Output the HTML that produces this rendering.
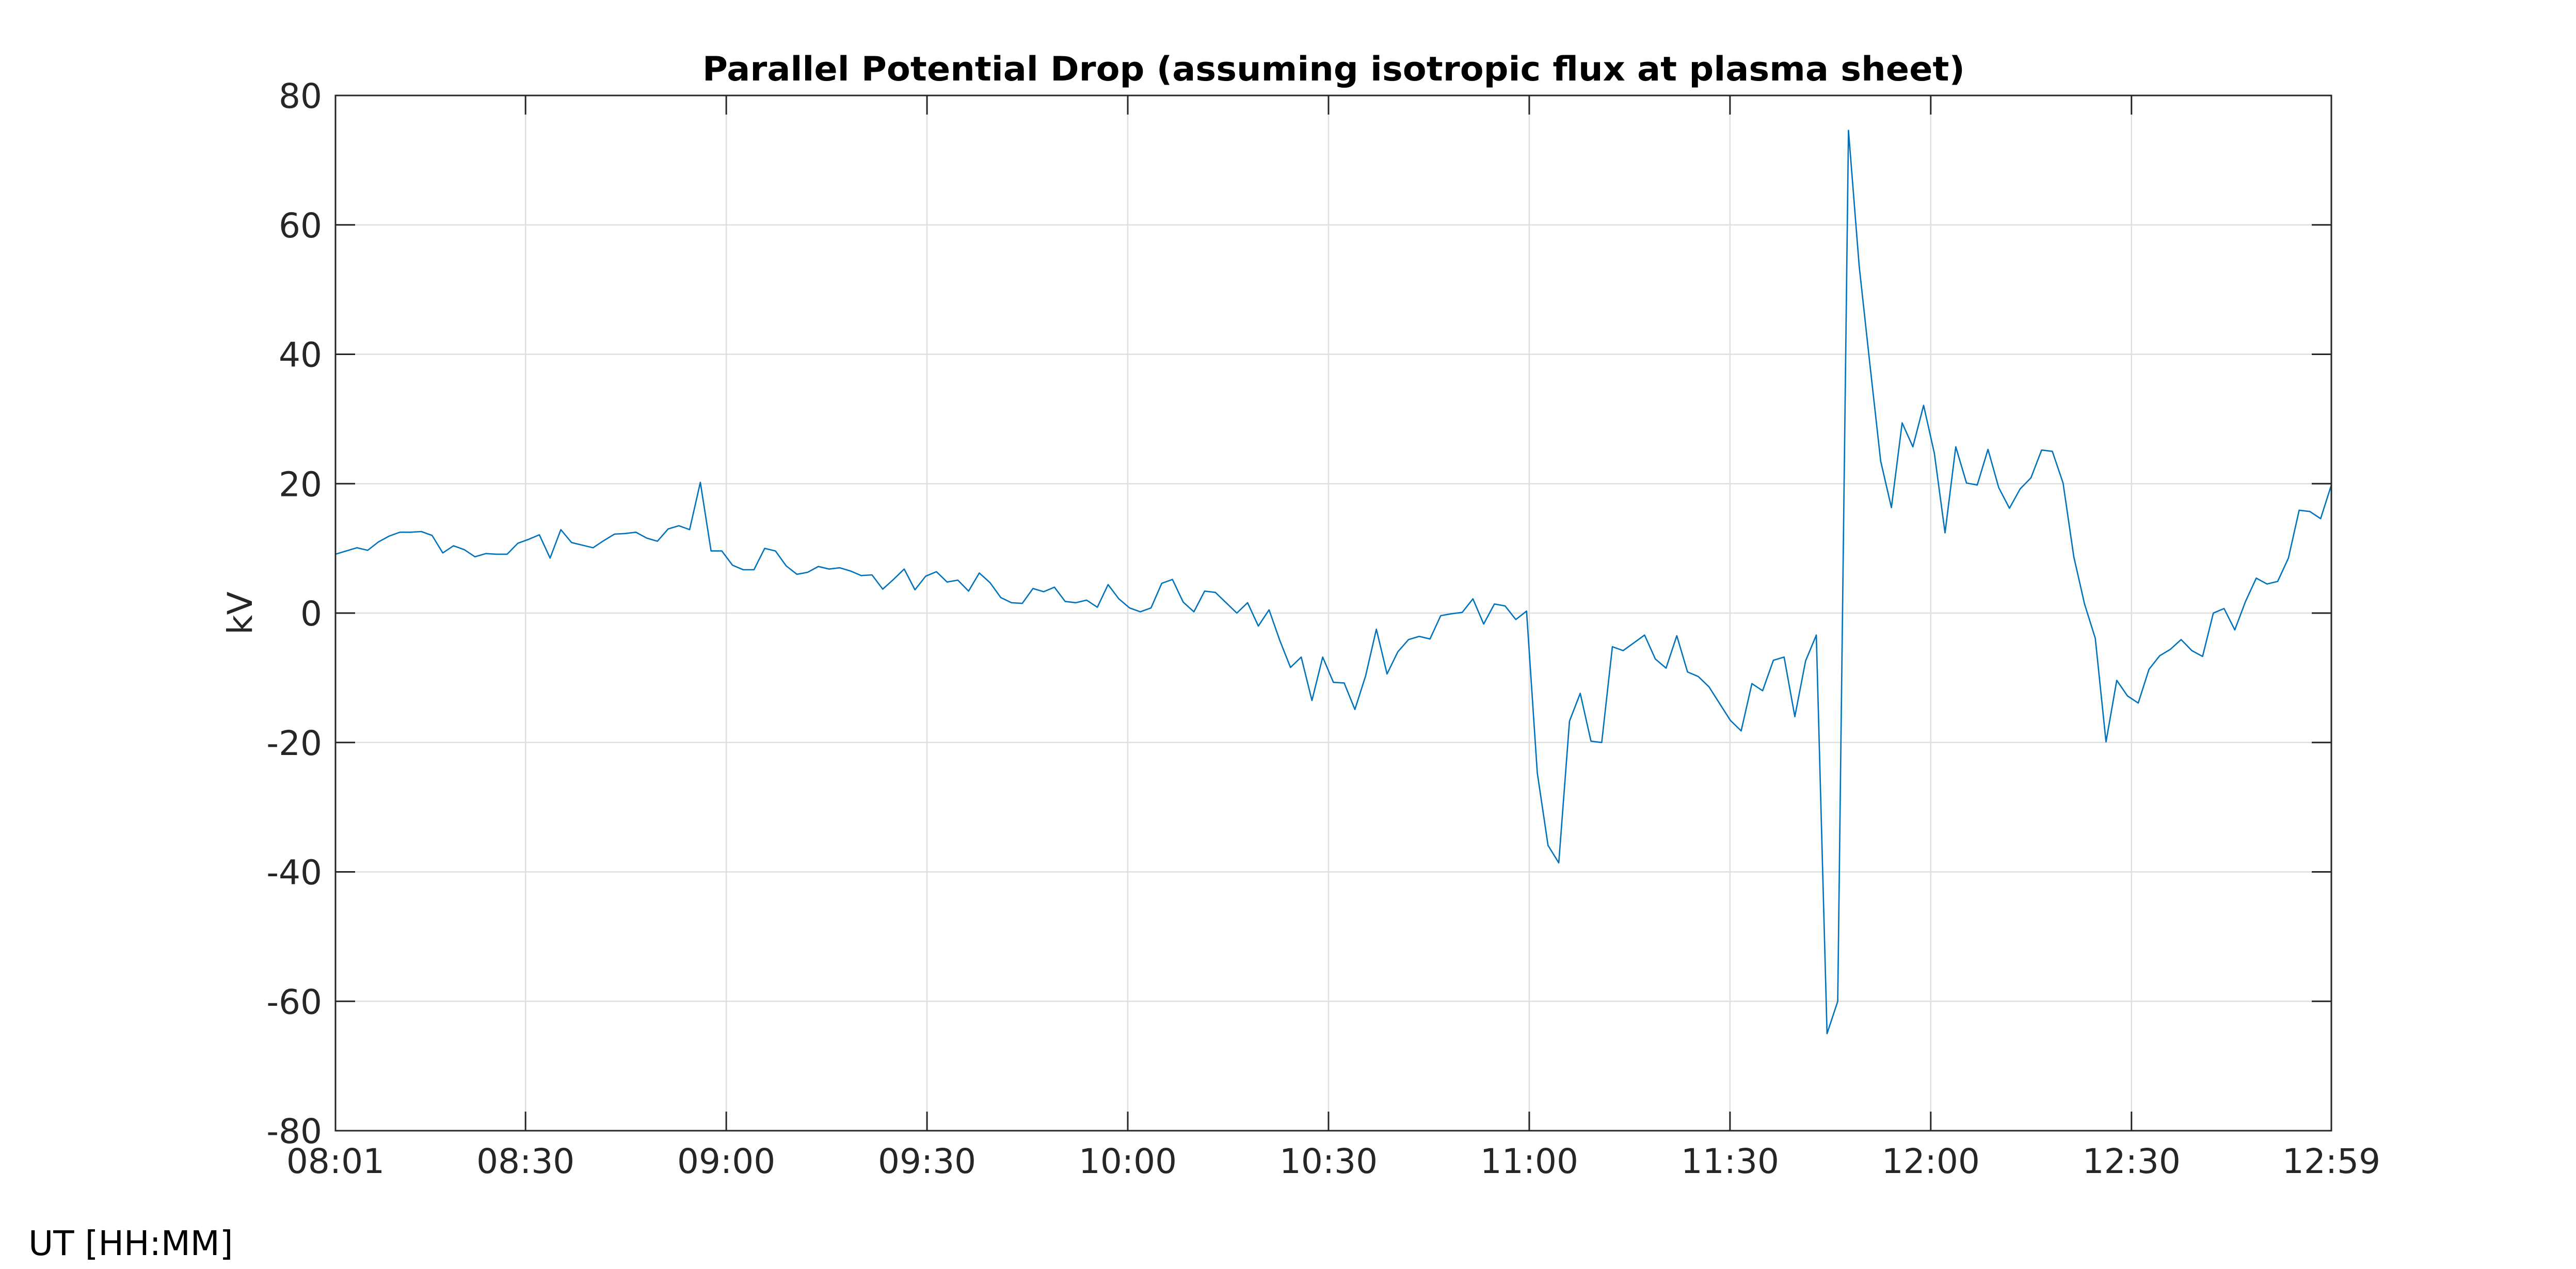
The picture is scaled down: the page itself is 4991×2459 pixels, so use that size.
<!DOCTYPE html>
<html><head><meta charset="utf-8"><style>
html,body{margin:0;padding:0;background:#fff;}
svg{display:block;}
text{font-family:"DejaVu Sans","Liberation Sans",sans-serif;}
</style></head><body>
<svg id="chart" width="4991" height="2459" viewBox="0 0 4991 2459" xmlns="http://www.w3.org/2000/svg">
<rect x="0" y="0" width="4991" height="2459" fill="#fff"/>
<g id="grid"></g>
<g id="series"></g>
<g id="axes"></g>
<text x="2584" y="156" text-anchor="middle" font-size="65" font-weight="bold" fill="#000" textLength="2446" lengthAdjust="spacingAndGlyphs">Parallel Potential Drop (assuming isotropic flux at plasma sheet)</text>
<text transform="translate(488,1188) rotate(-90)" text-anchor="middle" font-size="66" fill="#262626">kV</text>
<text x="55" y="2432" font-size="66" fill="#000">UT [HH:MM]</text>
</svg>
<script>
// data
const tStart = 481.6;   // minutes since 00:00 (08:01.6)
const tStep = 1.6036;   // sampling interval in minutes
const xMinMinutes = 481.6;
const xMaxMinutes = 779.87;
const yTicks = [80, 60, 40, 20, 0, -20, -40, -60, -80];
const yTickLabels = ["80", "60", "40", "20", "0", "-20", "-40", "-60", "-80"];
const xTickMinutes = [481.6, 510, 540, 570, 600, 630, 660, 690, 720, 750, 779.87];
const xTickLabels = ["08:01", "08:30", "09:00", "09:30", "10:00", "10:30", "11:00", "11:30", "12:00", "12:30", "12:59"];
const kV = [
9.1,9.6,10.1,9.7,11.0,11.9,12.5,12.5,12.6,12.0,9.3,10.4,9.8,8.7,9.2,9.1,9.1,10.8,11.4,12.1,8.5,12.9,10.9,10.5,10.1,11.2,12.2,12.3,12.5,11.6,11.1,13.0,13.5,12.9,20.2,9.6,9.6,7.4,6.7,6.7,10.0,9.6,7.3,6.0,6.3,7.2,6.8,7.0,
6.5,5.8,5.9,3.7,5.2,6.8,3.6,5.7,6.4,4.8,5.1,3.4,6.2,4.7,2.4,1.6,1.5,3.8,3.3,4.0,1.8,1.6,2.0,0.9,4.4,2.2,0.8,0.2,0.8,4.6,5.2,1.7,0.2,3.4,3.2,1.6,0.0,1.6,-2.0,0.5,-4.2,-8.4,-6.8,-13.5,-6.8,-10.7,-10.8,
-14.9,-9.7,-2.5,-9.4,-6.0,-4.1,-3.6,-4.0,-0.4,-0.1,0.1,2.2,-1.7,1.4,1.1,-1.0,0.3,-24.7,-35.9,-38.6,-16.7,-12.4,-19.8,-20.0,-5.2,-5.8,-4.6,-3.4,-7.1,-8.5,-3.5,-9.1,-9.8,-11.4,-14.0,-16.6,-18.2,-10.9,-12.0,-7.3,-6.8,-16.0,-7.4,-3.4,
-65.0,-60.0,
74.6,53.6,38.4,23.5,16.3,29.4,25.7,32.1,24.7,12.4,25.7,20.1,19.8,25.3,19.4,16.2,19.2,20.9,25.2,25.0,20.1,8.7,1.4,-3.9,
-19.9,-10.4,-12.8,-13.9,-8.7,-6.6,-5.6,-4.1,-5.8,-6.7,0.0,0.7,-2.6,1.8,5.4,4.5,4.9,8.5,15.9,15.7,14.6,19.8
];

const L = 650, R = 4517, T = 185, B = 2191;
const NS = "http://www.w3.org/2000/svg";
function xPos(m){ return L + (m - xMinMinutes) / (xMaxMinutes - xMinMinutes) * (R - L); }
function yPos(v){ return T + (80 - v) / 160 * (B - T); }
function mk(tag, attrs, parent){
  const e = document.createElementNS(NS, tag);
  for (const k in attrs) e.setAttribute(k, attrs[k]);
  parent.appendChild(e);
  return e;
}
const grid = document.getElementById('grid');
const axes = document.getElementById('axes');
const series = document.getElementById('series');

xTickMinutes.forEach((m, i) => {
  const x = xPos(m);
  if (i > 0 && i < xTickMinutes.length - 1) {
    const g = mk('line', {x1:x, x2:x, y1:T, y2:B, stroke:'#dfdfdf', 'stroke-width':2.5}, grid);
    
    
  }
  const t1 = mk('line', {x1:x, x2:x, y1:B, y2:B-37, stroke:'#262626', 'stroke-width':3}, axes);
  
  
  const t2 = mk('line', {x1:x, x2:x, y1:T, y2:T+37, stroke:'#262626', 'stroke-width':3}, axes);
  
  
  const lb = mk('text', {x:x, y:2273, 'text-anchor':'middle', 'font-size':66, fill:'#262626'}, axes);
  lb.textContent = xTickLabels[i];
  
  
});
yTicks.forEach((v, i) => {
  const y = yPos(v);
  if (i > 0 && i < yTicks.length - 1) {
    const g = mk('line', {x1:L, x2:R, y1:y, y2:y, stroke:'#dfdfdf', 'stroke-width':2.5}, grid);
    
    
  }
  const t1 = mk('line', {x1:L, x2:L+38, y1:y, y2:y, stroke:'#262626', 'stroke-width':3}, axes);
  
  
  const t2 = mk('line', {x1:R, x2:R-38, y1:y, y2:y, stroke:'#262626', 'stroke-width':3}, axes);
  
  
  const lb = mk('text', {x:624, y:y+24, 'text-anchor':'end', 'font-size':66, fill:'#262626'}, axes);
  lb.textContent = yTickLabels[i];
  
  
});
const box = mk('rect', {x:L, y:T, width:R-L, height:B-T, fill:'none', stroke:'#262626', 'stroke-width':3}, axes);



const pts = kV.map((v, i) => xPos(tStart + i * tStep).toFixed(1) + ',' + yPos(v).toFixed(1)).join(' ');
const line = mk('polyline', {points:pts, fill:'none', stroke:'#0072BD', 'stroke-width':2.6, 'stroke-linejoin':'round'}, series);


</script>
</body></html>
